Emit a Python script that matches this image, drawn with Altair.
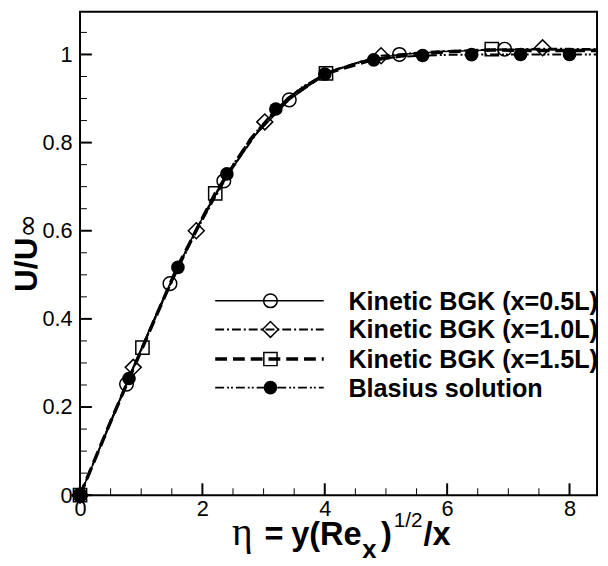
import altair as alt
import pandas as pd

# ---------------- data ----------------
# Kinetic BGK, x = 0.5L (solid line, open circles)
eta_05 = [0, 0.38, 0.76, 1.1, 1.47, 1.9, 2.35, 2.85, 3.42, 4.0, 4.6, 5.22, 6.0, 6.94, 7.8, 8.8]
u_05 = [0, 0.126, 0.252, 0.365, 0.48, 0.604, 0.713, 0.815, 0.897, 0.955, 0.985, 1.0, 1.007, 1.011, 1.01, 1.01]
eta_05_m = [0, 0.76, 1.47, 2.35, 3.42, 5.22, 6.94]
u_05_m = [0, 0.252, 0.48, 0.713, 0.897, 1.0, 1.012]

# Kinetic BGK, x = 1.0L (dash-dot line, open diamonds)
eta_10 = [0, 0.43, 0.87, 1.35, 1.9, 2.45, 3.02, 3.6, 4.2, 4.92, 5.8, 6.7, 7.56, 8.8]
u_10 = [0, 0.143, 0.29, 0.44, 0.6, 0.735, 0.847, 0.922, 0.967, 0.997, 1.007, 1.011, 1.013, 1.012]
eta_10_m = [0, 0.87, 1.9, 3.02, 4.92, 7.56]
u_10_m = [0, 0.29, 0.6, 0.847, 0.997, 1.015]

# Kinetic BGK, x = 1.5L (dashed line, open squares)
eta_15 = [0, 0.5, 1.02, 1.6, 2.21, 2.8, 3.4, 4.02, 4.7, 5.4, 6.0, 6.73, 7.5, 8.8]
u_15 = [0, 0.167, 0.335, 0.52, 0.685, 0.81, 0.9, 0.957, 0.985, 1.0, 1.006, 1.01, 1.009, 1.009]
eta_15_m = [0, 1.02, 2.21, 4.02, 6.73]
u_15_m = [0, 0.335, 0.685, 0.957, 1.012]

# Blasius solution (dash-dot-dot line, filled circles)
eta_bl = [0, 0.4, 0.8, 1.2, 1.6, 2.0, 2.4, 2.8, 3.2, 3.6, 4.0, 4.4, 4.8, 5.2, 5.6, 6.0, 6.4, 6.8, 7.2, 7.6, 8.0, 8.4, 8.8]
u_bl = [0, 0.1328, 0.2647, 0.3938, 0.5168, 0.6298, 0.7290, 0.8115, 0.8761, 0.9233, 0.9555, 0.9759,
        0.9878, 0.9943, 0.9975, 0.9990, 0.9996, 0.9999, 1.0, 1.0, 1.0, 1.0, 1.0]
eta_bl_m = [0, 0.8, 1.6, 2.4, 3.2, 4.0, 4.8, 5.6, 6.4, 7.2, 8.0]
u_bl_m = [0, 0.2647, 0.5168, 0.7290, 0.8761, 0.9555, 0.9878, 0.9975, 0.9996, 1.0, 1.0]

series_labels = ["Kinetic BGK (x=0.5L)", "Kinetic BGK (x=1.0L)",
                 "Kinetic BGK (x=1.5L)", "Blasius solution"]

x_major = [0, 2, 4, 6, 8]
x_minor = [0.5, 1, 1.5, 2.5, 3, 3.5, 4.5, 5, 5.5, 6.5, 7, 7.5]
y_major = [0, 0.2, 0.4, 0.6, 0.8, 1.0]
y_minor = [0.05, 0.1, 0.15, 0.25, 0.3, 0.35, 0.45, 0.5, 0.55, 0.65, 0.7, 0.75, 0.85, 0.9, 0.95, 1.05]

# ---------------- layout / style ----------------
W, H = 524, 490
X_MAX, Y_MAX = 8.45, 1.097
FONT = "Liberation Sans"

xs = alt.Scale(domain=[0, X_MAX], nice=False, zero=False)
ys = alt.Scale(domain=[0, Y_MAX], nice=False, zero=False)
xaxis = alt.Axis(values=x_major, title=None, ticks=False, domain=False, grid=False,
                 labelFontSize=22, labelFont=FONT, labelColor="black", labelPadding=4,
                 labelFlush=False, labelOverlap=False, format="~g")
yaxis = alt.Axis(values=y_major, title=None, ticks=False, domain=False, grid=False,
                 labelFontSize=22, labelFont=FONT, labelColor="black", labelPadding=8,
                 labelFlush=False, labelOverlap=False, format="~g")

styles = [
    dict(dash=[1, 0], width=1.5, shape="circle", filled=False, size=190),
    dict(dash=[9, 3, 2, 3], width=2.0, shape="diamond", filled=False, size=260),
    dict(dash=[12, 6], width=3.5, shape="square", filled=False, size=180),
    dict(dash=[9, 3, 2, 2, 2, 3], width=2.0, shape="circle", filled=True, size=190),
]
lines_data = [(eta_05, u_05), (eta_10, u_10), (eta_15, u_15), (eta_bl, u_bl)]
marks_data = [(eta_05_m, u_05_m), (eta_10_m, u_10_m), (eta_15_m, u_15_m), (eta_bl_m, u_bl_m)]

layers = []
for (ex, uy), st in zip(lines_data, styles):
    df = pd.DataFrame({"eta": ex, "u": uy})
    layers.append(
        alt.Chart(df).mark_line(color="black", strokeWidth=st["width"], strokeDash=st["dash"], clip=True)
        .encode(x=alt.X("eta:Q", scale=xs, axis=xaxis), y=alt.Y("u:Q", scale=ys, axis=yaxis),
                order="eta:Q")
    )
for (ex, uy), st in zip(marks_data, styles):
    df = pd.DataFrame({"eta": ex, "u": uy})
    if st["filled"]:
        mk = alt.Chart(df).mark_point(shape=st["shape"], size=st["size"], filled=True,
                                      color="black", opacity=1)
    else:
        mk = alt.Chart(df).mark_point(shape=st["shape"], size=st["size"], filled=False,
                                      stroke="black", strokeWidth=1.5, opacity=1)
    layers.append(mk.encode(x=alt.X("eta:Q", scale=xs, axis=xaxis), y=alt.Y("u:Q", scale=ys, axis=yaxis)))

# inward ticks
def xticks(vals, length, width):
    return alt.Chart(pd.DataFrame({"v": vals})).mark_rule(color="black", strokeWidth=width).encode(
        x=alt.X("v:Q", scale=xs, axis=xaxis), y=alt.value(H), y2=alt.value(H - length))

def yticks(vals, length, width):
    return alt.Chart(pd.DataFrame({"v": vals})).mark_rule(color="black", strokeWidth=width).encode(
        y=alt.Y("v:Q", scale=ys, axis=yaxis), x=alt.value(0), x2=alt.value(length))

layers += [xticks(x_major, 12, 2), xticks(x_minor, 7, 1), yticks(y_major, 12, 2), yticks(y_minor, 7, 1)]

# text helper
def txt(s, x, y, size, bold=True, font=FONT, angle=0):
    return alt.Chart(pd.DataFrame({"t": [s]})).mark_text(
        align="left", baseline="alphabetic", fontSize=size, fontWeight="bold" if bold else "normal",
        font=font, angle=angle, color="black").encode(x=alt.value(x), y=alt.value(y), text="t:N")

# legend
leg_y = [293, 322, 352, 381]
for lab, st, ly in zip(series_labels, styles, leg_y):
    one = pd.DataFrame({"t": [lab]})
    layers.append(alt.Chart(one).mark_rule(color="black", strokeWidth=st["width"], strokeDash=st["dash"])
                  .encode(x=alt.value(137), x2=alt.value(247), y=alt.value(ly)))
    if st["filled"]:
        pm = alt.Chart(one).mark_point(shape=st["shape"], size=st["size"], filled=True, color="black", opacity=1)
    else:
        pm = alt.Chart(one).mark_point(shape=st["shape"], size=st["size"], filled=False, stroke="black",
                                       strokeWidth=1.5, opacity=1)
    layers.append(pm.encode(x=alt.value(193), y=alt.value(ly)))
    layers.append(alt.Chart(one).mark_text(align="left", baseline="middle", fontSize=25.5, fontWeight="bold",
                                           font=FONT, color="black")
                  .encode(x=alt.value(272), y=alt.value(ly + 1), text="t:N"))

# axis titles
layers += [
    txt("η", 154, 540, 40, bold=False, font="Liberation Serif"),
    txt("=", 187, 540, 33),
    txt("y(Re", 214, 540, 33),
    txt("x", 286, 554, 26),
    txt(")", 305, 540, 33),
    txt("1/2", 318, 522, 21, bold=False),
    txt("/x", 348, 540, 33),
    txt("U/U", -44, 284, 32, angle=270),
    txt("∞", -44, 229, 29, bold=False, font="DejaVu Sans", angle=270),
]

chart = alt.layer(*layers).properties(
    width=W, height=H,
    autosize=alt.AutoSizeParams(type="none"),
    padding={"left": 73, "top": 0, "right": 3, "bottom": 66},
).configure_view(stroke="black", strokeWidth=2)

chart.save("out.html", embed_options={"renderer": "svg", "actions": False})
